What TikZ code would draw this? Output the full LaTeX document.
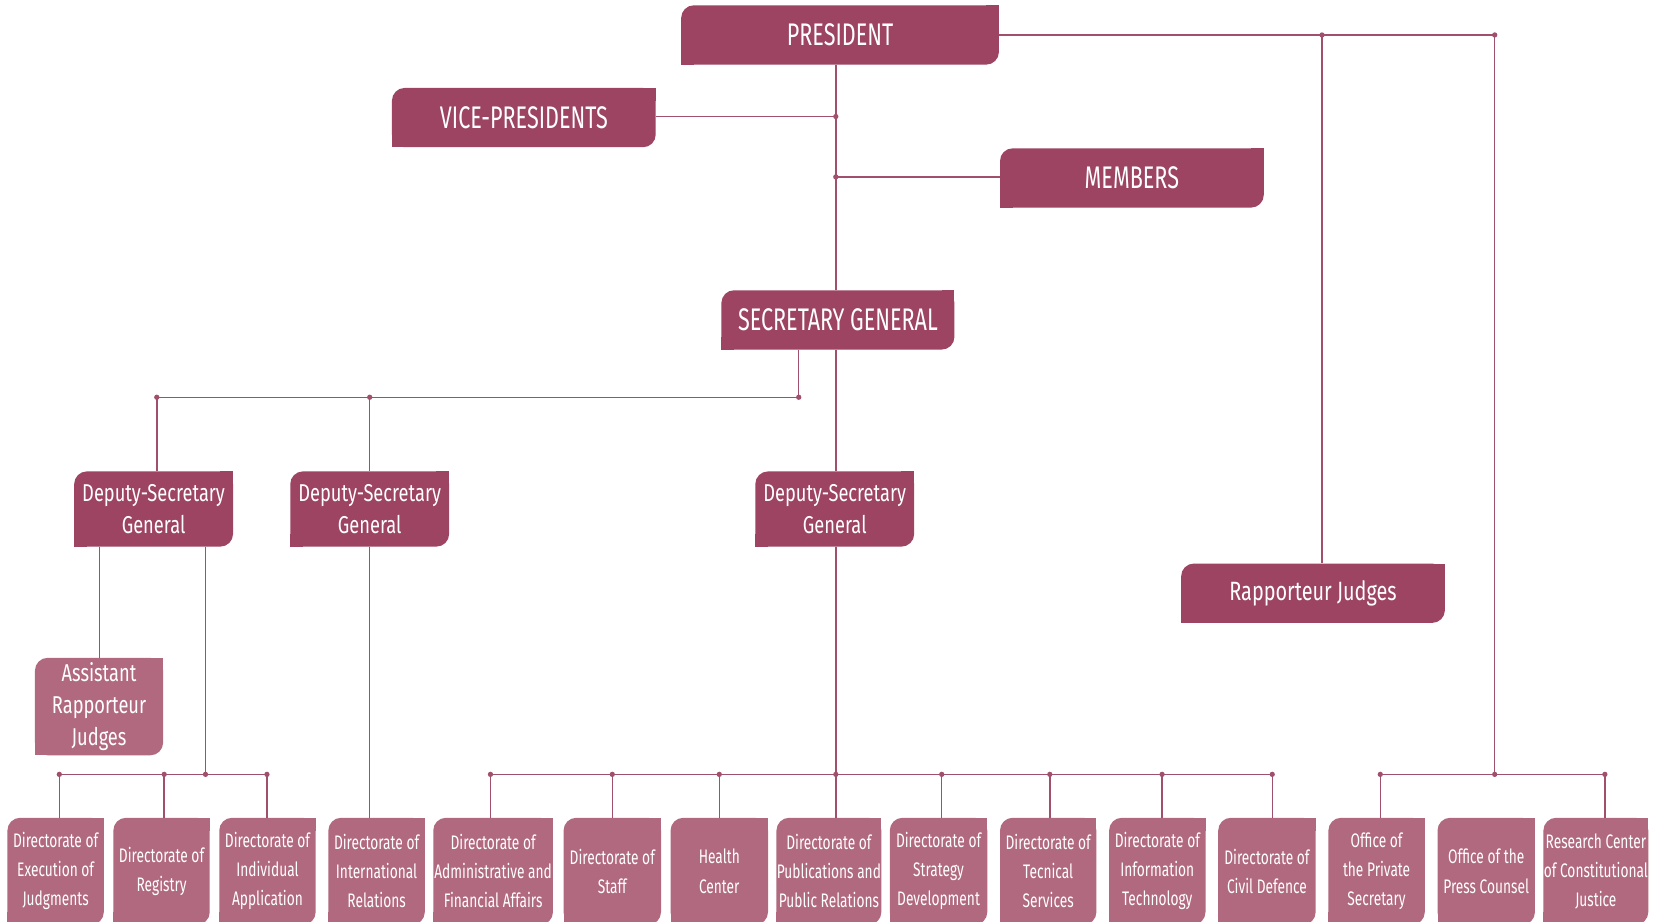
\documentclass[tikz,border=0pt]{standalone}
\usepackage{fontspec}
\setmainfont[FakeStretch=0.75]{Fira Sans}
\newfontfamily\bigf[FakeStretch=0.69]{Fira Sans}
\newfontfamily\smlf[FakeStretch=0.7]{Fira Sans}
\definecolor{dark}{HTML}{9C4462}
\definecolor{light}{HTML}{B0697E}
\definecolor{ln}{HTML}{A0506D}
\newcommand\fbig{\bigf\fontsize{29.5}{32}\selectfont}
\newcommand\fmid{\fontsize{23}{30}\selectfont}
\newcommand\frj{\fontsize{25}{30}\selectfont}
\newcommand\fsml{\smlf\fontsize{18.5}{27.5}\selectfont}
\tikzset{
  lbl/.style={text=white, align=center, inner sep=0pt},
  conn/.style={draw=ln, line width=1.4pt},
  jdot/.style={circle, fill=ln, inner sep=0pt, minimum size=5pt},
}
\newcommand\obox[8]{%
  \fill[#6,rounded corners=12pt] (#2,#3) rectangle (#4,#5);
  \fill[#6] (#4-12,#3) rectangle (#4,#3+12);
  \fill[#6] (#2,#5-12) rectangle (#2+12,#5);
  \node[lbl,font=#7,minimum width={(#4-#2)*1pt},minimum height={(#5-#3)*1pt}] (#1) at ({(#2+#4)/2},{(#3+#5)/2}) {#8};
}
\begin{document}
\begin{tikzpicture}[x=1pt,y=-1pt]
\useasboundingbox (0,0) rectangle (1568,870);
\clip (0,0) rectangle (1568,870);
\fill[white] (0,0) rectangle (1568,870);

% junction coordinates
\coordinate (jvp) at (789,110);
\coordinate (jmem) at (789,167);
\coordinate (jrj) at (1248,33);
\coordinate (jr) at (1411,33);
\coordinate (sgl) at (754,375);
\coordinate (s1) at (148,375);
\coordinate (s2) at (349,375);
\coordinate (ja) at (94,600);
\coordinate (jl) at (194,731);
\coordinate (l1) at (56,731);
\coordinate (l2) at (155,731);
\coordinate (l3) at (252,731);
\coordinate (m5) at (463,731);
\coordinate (m6) at (578,731);
\coordinate (m7) at (679,731);
\coordinate (m8) at (789,731);
\coordinate (m9) at (889,731);
\coordinate (m10) at (991,731);
\coordinate (m11) at (1097,731);
\coordinate (m12) at (1201,731);
\coordinate (r13) at (1303,731);
\coordinate (r14) at (1411,731);
\coordinate (r15) at (1515,731);

% boxes
\obox{pres}{643}{5}{943}{61}{dark}{\fbig}{PRESIDENT}
\obox{vp}{370}{83}{619}{139}{dark}{\fbig}{VICE-PRESIDENTS}
\obox{mem}{944}{140}{1193}{196}{dark}{\fbig}{MEMBERS}
\obox{sg}{681}{274}{901}{330}{dark}{\fbig}{SECRETARY GENERAL}
\obox{d1}{70}{445}{220}{516}{dark}{\fmid}{Deputy-Secretary\\General}
\obox{d2}{274}{445}{424}{516}{dark}{\fmid}{Deputy-Secretary\\General}
\obox{d3}{713}{445}{863}{516}{dark}{\fmid}{Deputy-Secretary\\General}
\obox{rj}{1115}{532}{1364}{588}{dark}{\frj}{Rapporteur Judges}
\obox{ar}{33}{621}{154}{713}{light}{\fmid}{Assistant\\Rapporteur\\Judges}

\obox{b1}{7}{772}{98}{873}{light}{\fsml}{Directorate of\\Execution of\\Judgments}
\obox{b2}{107}{772}{198}{873}{light}{\fsml}{Directorate of\\Registry}
\obox{b3}{207}{772}{298}{873}{light}{\fsml}{Directorate of\\Individual\\Application}
\obox{b4}{310}{772}{401}{873}{light}{\fsml}{Directorate of\\International\\Relations}
\obox{b5}{409}{772}{522}{873}{light}{\fsml}{Directorate of\\Administrative and\\Financial Affairs}
\obox{b6}{532}{772}{624}{873}{light}{\fsml}{Directorate of\\Staff}
\obox{b7}{633}{772}{725}{873}{light}{\fsml}{Health\\Center}
\obox{b8}{733}{772}{832}{873}{light}{\fsml}{Directorate of\\Publications and\\Public Relations}
\obox{b9}{840}{772}{932}{873}{light}{\fsml}{Directorate of\\Strategy\\Development}
\obox{b10}{944}{772}{1035}{873}{light}{\fsml}{Directorate of\\Tecnical\\Services}
\obox{b11}{1047}{772}{1138}{873}{light}{\fsml}{Directorate of\\Information\\Technology}
\obox{b12}{1150}{772}{1242}{873}{light}{\fsml}{Directorate of\\Civil Defence}
\obox{b13}{1254}{772}{1345}{873}{light}{\fsml}{Office of\\the Private\\Secretary}
\obox{b14}{1357}{772}{1449}{873}{light}{\fsml}{Office of the\\Press Counsel}
\obox{b15}{1457}{772}{1556}{873}{light}{\fsml}{Research Center\\of Constitutional\\Justice}

% connectors
\draw[conn] (pres.south -| jvp) -- (sg.north -| jvp);
\draw[conn] (vp.east |- jvp) -- (jvp);
\draw[conn] (mem.west |- jmem) -- (jmem);
\draw[conn] (pres.east |- jr) -- (jr);
\draw[conn] (jrj) -- (rj.north -| jrj);
\draw[conn] (jr) -- (r14);
\draw[conn] (r13) -- (r15);
\draw[conn] (r13) -- (b13.north -| r13);
\draw[conn] (r15) -- (b15.north -| r15);

\draw[conn] (sg.south -| sgl) -- (sgl) -- (s1);
\draw[conn] (s1) -- (d1.north -| s1);
\draw[conn] (s2) -- (d2.north -| s2);
\draw[conn] (sg.south -| m8) -- (d3.north -| m8);
\draw[conn] (d3.south -| m8) -- (m8);
\draw[conn] (m5) -- (m12);
\foreach \c/\b in {m5/b5,m6/b6,m7/b7,m8/b8,m9/b9,m10/b10,m11/b11,m12/b12}
  \draw[conn] (\c) -- (\b.north -| \c);

\draw[conn] (d1.south -| ja) -- (ar.north -| ja);
\draw[conn] (d1.south -| jl) -- (jl);
\draw[conn] (l1) -- (l3);
\foreach \c/\b in {l1/b1,l2/b2,l3/b3}
  \draw[conn] (\c) -- (\b.north -| \c);
\draw[conn] (d2.south -| s2) -- (b4.north -| s2);

% junction dots
\foreach \c in {jvp,jmem,jrj,jr,sgl,s1,s2,jl,l1,l2,l3,m5,m6,m7,m8,m9,m10,m11,m12,r13,r14,r15}
  \node[jdot] at (\c) {};
\end{tikzpicture}
\end{document}
